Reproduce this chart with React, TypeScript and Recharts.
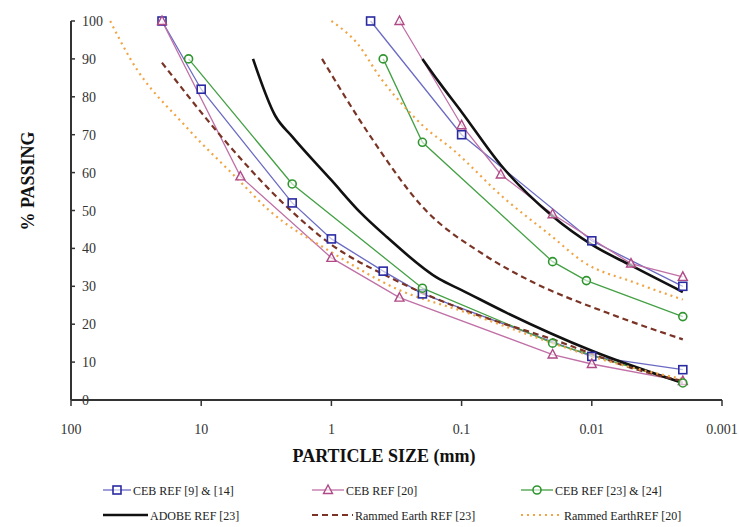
import React from 'react';
import { LineChart, Line, XAxis, YAxis, Label } from 'recharts';

// ---------- data (particle size in mm, % passing) ----------
const xTickValues = [100, 10, 1, 0.1, 0.01, 0.001];
const xTickLabels = ['100', '10', '1', '0.1', '0.01', '0.001'];
const yTickValues = [0, 10, 20, 30, 40, 50, 60, 70, 80, 90, 100];

// CEB REF [9] & [14]
const cebRef9Lower = [[20, 100], [10, 82], [2, 52], [1, 42.5], [0.4, 34], [0.2, 28], [0.01, 11.5], [0.002, 8]];
const cebRef9Upper = [[0.5, 100], [0.1, 70], [0.01, 42], [0.002, 30]];
// CEB REF [20]
const cebRef20Lower = [[20, 100], [5, 59], [1, 37.5], [0.3, 27], [0.02, 12], [0.01, 9.5], [0.002, 5]];
const cebRef20Upper = [[0.3, 100], [0.1, 72.5], [0.05, 59.5], [0.02, 49], [0.005, 36], [0.002, 32.5]];
// CEB REF [23] & [24]
const cebRef23Lower = [[12.5, 90], [2, 57], [0.2, 29.5], [0.02, 15], [0.002, 4.5]];
const cebRef23Upper = [[0.4, 90], [0.2, 68], [0.02, 36.5], [0.011, 31.5], [0.002, 22]];
// ADOBE REF [23]
const adobeLower = [[4, 90], [2.7, 75], [2, 69.5], [1, 58], [0.6, 49.5], [0.375, 43], [0.15, 32], [0.1, 29], [0.045, 23], [0.01, 13], [0.002, 4.5]];
const adobeUpper = [[0.2, 90], [0.15, 84], [0.1, 76], [0.05, 62], [0.02, 48.5], [0.01, 41], [0.005, 35.5], [0.002, 28.5]];
// Rammed Earth REF [23]
const rammed23Lower = [[20, 89], [7, 69.5], [2.2, 51], [1, 41], [0.34, 32], [0.1, 24], [0.02, 16], [0.004, 7.5], [0.002, 5]];
const rammed23Upper = [[1.18, 90], [0.5, 69.5], [0.2, 51], [0.065, 38], [0.028, 31], [0.0076, 23], [0.002, 16]];
// Rammed Earth REF [20]
const rammed20Lower = [[50, 100], [35, 90], [13, 72], [5.5, 59], [3, 50], [1, 39], [0.3, 29], [0.1, 23.5], [0.02, 15], [0.01, 11.5], [0.002, 5.5]];
const rammed20Upper = [[1, 100], [0.63, 94], [0.42, 85], [0.26, 76.5], [0.2, 72.5], [0.116, 66], [0.048, 53.5], [0.02, 43], [0.0117, 36.5], [0.0047, 31], [0.002, 26.5]];

const seriesNames = ['CEB REF [9] & [14]', 'CEB REF [20]', 'CEB REF [23] & [24]', 'ADOBE REF [23]', 'Rammed Earth REF [23]', 'Rammed EarthREF [20]'];

// ---------- styles ----------
const SERIF = '"Liberation Serif", "DejaVu Serif", "Times New Roman", serif';

type Style = { color: string; markerColor?: string; marker?: string; width: number; dash?: string; curve: 'linear' | 'monotone' };
const seriesStyles: Style[] = [
  { color: '#6a6ac4', markerColor: '#2a2aa2', marker: 'square', width: 1.3, curve: 'linear' },
  { color: '#c070a6', markerColor: '#b04a86', marker: 'triangle', width: 1.3, curve: 'linear' },
  { color: '#44a044', markerColor: '#2f962f', marker: 'circle', width: 1.3, curve: 'linear' },
  { color: '#111111', width: 2.6, curve: 'monotone' },
  { color: '#7a3426', width: 2.2, dash: '6 4', curve: 'monotone' },
  { color: '#f0a444', width: 2.2, dash: '2 4', curve: 'monotone' },
];
const seriesData = [
  [cebRef9Lower, cebRef9Upper],
  [cebRef20Lower, cebRef20Upper],
  [cebRef23Lower, cebRef23Upper],
  [adobeLower, adobeUpper],
  [rammed23Lower, rammed23Upper],
  [rammed20Lower, rammed20Upper],
];
// legend layout: sample line start/end, text start, row y
const legendLayout = [
  { x1: 103, x2: 131, tx: 133, y: 490 },
  { x1: 312, x2: 344, tx: 346, y: 490 },
  { x1: 521, x2: 553, tx: 555, y: 490 },
  { x1: 103, x2: 148, tx: 150, y: 515 },
  { x1: 312, x2: 353, tx: 355, y: 515 },
  { x1: 521, x2: 562, tx: 564, y: 515 },
];

const toPoints = (arr: number[][]) => arr.map(([size, pct]) => ({ size, pct }));

function Marker({ kind, x, y, color }: { kind: string; x: number; y: number; color: string }) {
  if (kind === 'square') {
    return <rect x={x - 4} y={y - 4} width={8} height={8} fill="#ffffff" fillOpacity={0.6} stroke={color} strokeWidth={1.6} />;
  }
  if (kind === 'triangle') {
    return <polygon points={`${x},${y - 5} ${x - 4.5},${y + 3.5} ${x + 4.5},${y + 3.5}`} fill="#ffffff" fillOpacity={0.6} stroke={color} strokeWidth={1.4} />;
  }
  return <circle cx={x} cy={y} r={4} fill="#ffffff" fillOpacity={0.6} stroke={color} strokeWidth={1.6} />;
}

const makeDot = (kind: string, color: string) => (props: any) => {
  const { cx, cy, index } = props;
  if (cx == null || cy == null) return <g key={`e${index}`} />;
  return <Marker key={`m${index}`} kind={kind} x={cx} y={cy} color={color} />;
};

const XTick = (props: any) => {
  const { x, y, payload } = props;
  const i = xTickValues.indexOf(payload.value);
  return (
    <text x={x} y={y} dy={28} textAnchor="middle" fontFamily={SERIF} fontSize={14} fill="#333">
      {i >= 0 ? xTickLabels[i] : String(payload.value)}
    </text>
  );
};

const YTick = (props: any) => {
  const { x, y, payload } = props;
  return (
    <g>
      <line x1={x} y1={y} x2={x + 4} y2={y} stroke="#333" strokeWidth={1.5} />
      <text x={x + 11} y={y} dy={5} textAnchor="start" fontFamily={SERIF} fontSize={14} fill="#333">
        {payload.value}
      </text>
    </g>
  );
};

export default function App() {
  const lines: React.ReactNode[] = [];
  seriesData.forEach((pair, si) => {
    const st = seriesStyles[si];
    pair.forEach((arr, pi) => {
      lines.push(
        <Line
          key={`s${si}-${pi}`}
          data={toPoints(arr)}
          dataKey="pct"
          name={seriesNames[si]}
          type={st.curve}
          stroke={st.color}
          strokeWidth={st.width}
          strokeDasharray={st.dash}
          dot={st.marker ? makeDot(st.marker, st.markerColor || st.color) : false}
          activeDot={false}
          isAnimationActive={false}
          legendType="none"
        />
      );
    });
  });

  return (
    <div style={{ position: 'absolute', left: 0, top: 0, width: 739, height: 527, background: '#ffffff' }}>
      <LineChart width={739} height={527} margin={{ top: 21, right: 17, bottom: 97, left: 11 }}>
        <XAxis
          dataKey="size"
          type="number"
          scale="log"
          domain={[0.001, 100]}
          reversed
          allowDataOverflow
          ticks={xTickValues}
          interval={0}
          height={30}
          tickSize={6}
          tickMargin={0}
          tick={<XTick />}
          axisLine={{ stroke: '#333', strokeWidth: 2 }}
          tickLine={{ stroke: '#333', strokeWidth: 1.5 }}
        >
          <Label
            content={() => (
              <text x={384} y={462} textAnchor="middle" fontFamily={SERIF} fontWeight="bold" fontSize={18} fill="#111">
                PARTICLE SIZE (mm)
              </text>
            )}
          />
        </XAxis>
        <YAxis
          type="number"
          domain={[0, 100]}
          ticks={yTickValues}
          interval={0}
          width={60}
          tickSize={0}
          tickMargin={0}
          tickLine={false}
          tick={<YTick />}
          axisLine={{ stroke: '#333', strokeWidth: 2 }}
        >
          <Label
            content={() => (
              <text x={28} y={181} transform="rotate(-90 28 181)" textAnchor="middle" dominantBaseline="central" fontFamily={SERIF} fontWeight="bold" fontSize={18} fill="#111">
                % PASSING
              </text>
            )}
          />
        </YAxis>
        {lines}
      </LineChart>
      <svg width={739} height={527} style={{ position: 'absolute', left: 0, top: 0, pointerEvents: 'none' }}>
        {seriesNames.map((name, i) => {
          const st = seriesStyles[i];
          const p = legendLayout[i];
          return (
            <g key={name}>
              <line x1={p.x1} y1={p.y} x2={p.x2} y2={p.y} stroke={st.color} strokeWidth={st.width} strokeDasharray={st.dash} />
              {st.marker ? <Marker kind={st.marker} x={(p.x1 + p.x2) / 2} y={p.y} color={st.markerColor || st.color} /> : null}
              <text x={p.tx} y={p.y} dy={4.5} fontFamily={SERIF} fontSize={12} fill="#222">
                {name}
              </text>
            </g>
          );
        })}
      </svg>
    </div>
  );
}
